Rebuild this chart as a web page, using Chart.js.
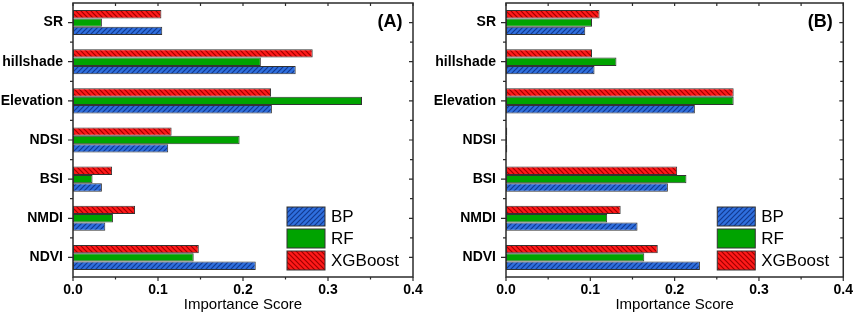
<!DOCTYPE html>
<html>
<head>
<meta charset="utf-8">
<script src="https://cdn.jsdelivr.net/npm/chart.js@4.4.1/dist/chart.umd.min.js"></script>
<style>
  html, body { margin: 0; padding: 0; background: #fff; }
  #wrap { position: relative; width: 858px; height: 316px; }
  canvas { position: absolute; top: 0; }
</style>
</head>
<body>
<div id="wrap">
  <canvas id="chartA" width="430" height="316" style="left:0"></canvas>
  <canvas id="chartB" width="428" height="316" style="left:430px"></canvas>
</div>
<script>
// feature names, top to bottom
var categories = ['SR', 'hillshade', 'Elevation', 'NDSI', 'BSI', 'NMDI', 'NDVI'];
var xTicks = [0, 0.1, 0.2, 0.3, 0.4];

// panel (A)
var bpA  = [0.105, 0.262, 0.234, 0.112, 0.034, 0.038, 0.215];
var rfA  = [0.034, 0.221, 0.340, 0.196, 0.023, 0.047, 0.142];
var xgbA = [0.104, 0.282, 0.233, 0.116, 0.046, 0.073, 0.148];

// panel (B)
var bpB  = [0.094, 0.105, 0.224, 0.0015, 0.192, 0.156, 0.230];
var rfB  = [0.102, 0.131, 0.270, 0.0012, 0.214, 0.120, 0.164];
var xgbB = [0.111, 0.102, 0.270, 0.0015, 0.203, 0.136, 0.180];

function hatch(bg, fg, dir) {
  var s = 5;
  var c = document.createElement('canvas');
  c.width = s; c.height = s;
  var x = c.getContext('2d');
  x.fillStyle = bg;
  x.fillRect(0, 0, s, s);
  x.strokeStyle = fg;
  x.lineWidth = 1.2;
  x.beginPath();
  if (dir > 0) {
    x.moveTo(0, s); x.lineTo(s, 0);
    x.moveTo(-1, 1); x.lineTo(1, -1);
    x.moveTo(s - 1, s + 1); x.lineTo(s + 1, s - 1);
  } else {
    x.moveTo(0, 0); x.lineTo(s, s);
    x.moveTo(s - 1, -1); x.lineTo(s + 1, 1);
    x.moveTo(-1, s - 1); x.lineTo(1, s + 1);
  }
  x.stroke();
  return x.createPattern(c, 'repeat');
}

var bpFill = hatch('#2f6fde', '#123a8f', 1);
var rfFill = '#00a300';
var xgbFill = hatch('#ff1a1a', '#a00000', -1);

var frame = {
  id: 'frame',
  afterDraw: function(chart, args, opts) {
    var ctx = chart.ctx, a = chart.chartArea;
    var xs = chart.scales.x, ys = chart.scales.y;
    ctx.save();
    ctx.strokeStyle = '#2b2b2b';
    ctx.lineWidth = 1.5;
    ctx.strokeRect(a.left, a.top, a.right - a.left, a.bottom - a.top);
    ctx.lineWidth = 1.2;
    ctx.beginPath();
    for (var v = 0; v <= 8; v++) {
      var px = xs.getPixelForValue(v * 0.05);
      var major = v % 2 === 0;
      ctx.moveTo(px, a.bottom); ctx.lineTo(px, a.bottom + (major ? 4 : 2.5));
      ctx.moveTo(px, a.top); ctx.lineTo(px, a.top + 3);
    }
    for (var i = 0; i < categories.length; i++) {
      var py = ys.getPixelForValue(i);
      ctx.moveTo(a.left, py); ctx.lineTo(a.left - 5, py);
      ctx.moveTo(a.right, py); ctx.lineTo(a.right - 4, py);
      if (i < categories.length - 1) {
        var pm = (py + ys.getPixelForValue(i + 1)) / 2;
        ctx.moveTo(a.left, pm); ctx.lineTo(a.left - 3, pm);
        ctx.moveTo(a.right, pm); ctx.lineTo(a.right - 3, pm);
      }
    }
    ctx.stroke();

    // panel letter
    ctx.fillStyle = '#000';
    ctx.font = 'bold 18px "Liberation Sans", Arial, sans-serif';
    ctx.textAlign = 'center';
    ctx.textBaseline = 'middle';
    ctx.fillText(opts.tag, a.right - 23, a.top + 19);

    // legend: BP, RF, XGBoost
    var ds = chart.data.datasets.slice().reverse();
    ctx.font = '17px "Liberation Sans", Arial, sans-serif';
    ctx.textAlign = 'left';
    for (var k = 0; k < ds.length; k++) {
      var bx = a.right - 126, by = a.bottom - 70 + k * 22;
      ctx.fillStyle = ds[k].backgroundColor;
      ctx.fillRect(bx, by, 38, 19);
      ctx.strokeStyle = '#333';
      ctx.lineWidth = 1;
      ctx.strokeRect(bx, by, 38, 19);
      ctx.fillStyle = '#000';
      ctx.fillText(ds[k].label, bx + 44, by + 10);
    }
    ctx.restore();
  }
};

function makeChart(id, tag, bp, rf, xgb, yWidth) {
  return new Chart(document.getElementById(id), {
    type: 'bar',
    data: {
      labels: categories,
      datasets: [
        { label: 'XGBoost', data: xgb, backgroundColor: xgbFill },
        { label: 'RF', data: rf, backgroundColor: rfFill },
        { label: 'BP', data: bp, backgroundColor: bpFill }
      ]
    },
    options: {
      indexAxis: 'y',
      animation: false,
      responsive: false,
      layout: { padding: { top: 3, right: id === 'chartA' ? 17 : 11, bottom: 0, left: 0 } },
      datasets: {
        bar: {
          categoryPercentage: 0.64,
          barPercentage: 1.0,
          borderWidth: 1,
          borderColor: '#333',
          borderSkipped: false
        }
      },
      plugins: {
        legend: { display: false },
        tooltip: { enabled: false },
        frame: { tag: tag }
      },
      scales: {
        x: {
          min: 0,
          max: 0.4,
          afterBuildTicks: function(s) { s.ticks = xTicks.map(function(v) { return { value: v }; }); },
          afterFit: function(s) { s.height = 39; },
          grid: { display: false, drawTicks: false },
          border: { display: false },
          ticks: {
            padding: 5,
            color: '#000',
            font: { family: '"Liberation Sans", Arial, sans-serif', size: 14, weight: 'bold' },
            callback: function(v) { return Number(v).toFixed(1); }
          },
          title: {
            display: true,
            text: 'Importance Score',
            color: '#000',
            padding: { top: 0, bottom: 2 },
            font: { family: '"Liberation Sans", Arial, sans-serif', size: 15 }
          }
        },
        y: {
          afterFit: function(s) { s.width = yWidth; s.paddingTop = 0; s.paddingBottom = 0; },
          grid: { display: false, drawTicks: false },
          border: { display: false },
          ticks: {
            padding: 10,
            color: '#000',
            font: { family: '"Liberation Sans", Arial, sans-serif', size: 14, weight: 'bold' }
          }
        }
      }
    },
    plugins: [frame]
  });
}

var chartA = makeChart('chartA', '(A)', bpA, rfA, xgbA, 73);
var chartB = makeChart('chartB', '(B)', bpB, rfB, xgbB, 76);
</script>
</body>
</html>
